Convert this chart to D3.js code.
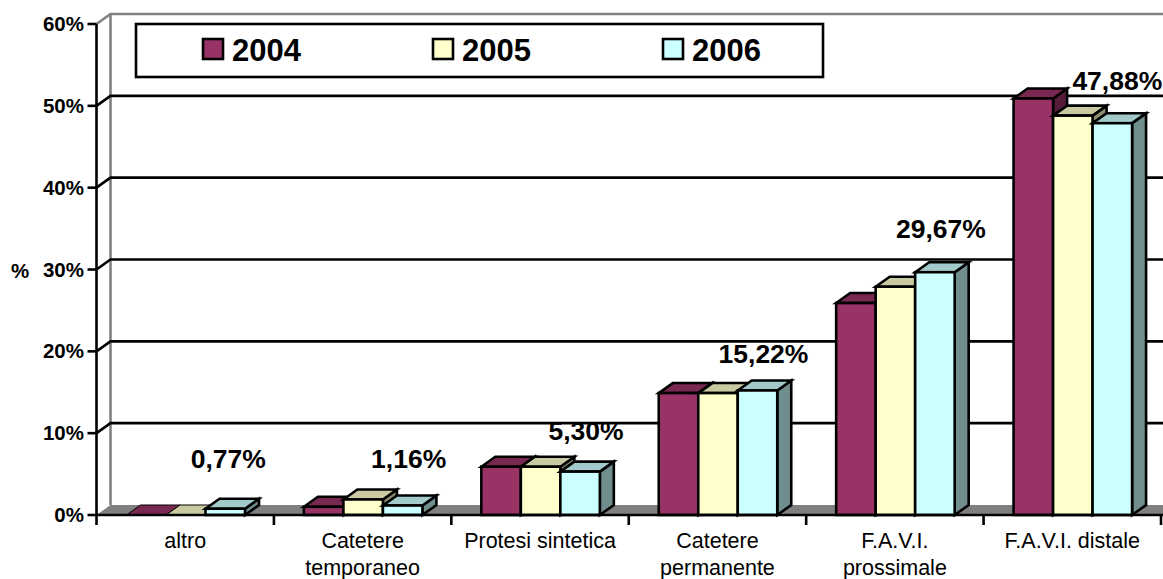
<!DOCTYPE html>
<html><head><meta charset="utf-8">
<script src="https://d3js.org/d3.v7.min.js"></script>
<style>html,body{margin:0;padding:0;background:#fff}svg{display:block}text{font-family:"Liberation Sans",Arial,sans-serif;fill:#000}</style>
</head><body><svg id="c" width="1163" height="579"></svg>
<script>
const categories=[["altro"],["Catetere","temporaneo"],["Protesi sintetica"],["Catetere","permanente"],["F.A.V.I.","prossimale"],["F.A.V.I. distale"]];
const series=["2004","2005","2006"];
const v2004=[0,1.0,5.9,14.9,25.9,50.9];
const v2005=[0,1.9,5.9,14.9,27.9,48.8];
const v2006=[0.77,1.16,5.30,15.22,29.67,47.88];
const labels=["0,77%","1,16%","5,30%","15,22%","29,67%","47,88%"];
const labelLift=[50,47,41,36,43,42];
const labelShift=[-4,-1,-1,-1,-1,-2];
const yTicks=[0,10,20,30,40,50,60];
const colors=["#993366","#FFFFCC","#CCFFFF"];
const W=1163,H=579,dx=14,dy=10,sw=2.6;
const values=[v2004,v2005,v2006];
const svg=d3.select("#c");
const y=d3.scaleLinear().domain([0,60]).range([515,24]);
const x=d3.scaleBand().domain(d3.range(6)).range([96.5,1161]).paddingInner(0).paddingOuter(0);
const inner=d3.scaleBand().domain(d3.range(3)).range([30,148.5]);
const L=x.range()[0];
// walls
svg.append("path").attr("d",`M${L},${y(60)}L${L+dx},${y(60)-dy}L${W},${y(60)-dy}`).attr("fill","none").attr("stroke","#808080").attr("stroke-width",sw);
svg.append("line").attr("x1",L+dx).attr("x2",L+dx).attr("y1",y(60)-dy).attr("y2",y(0)-dy).attr("stroke","#808080").attr("stroke-width",sw);
// gridlines
svg.selectAll("path.g").data(yTicks.filter(t=>t>0&&t<60)).join("path").attr("class","g")
  .attr("d",t=>`M${L},${y(t)}L${L+dx},${y(t)-dy}L${W},${y(t)-dy}`).attr("fill","none").attr("stroke","#000").attr("stroke-width",sw);
// floor
svg.append("path").attr("d",`M${L},${y(0)}L${L+dx},${y(0)-dy}L${W},${y(0)-dy}L${W},${y(0)}Z`).attr("fill","#808080");
// bars
categories.forEach((_,ci)=>{
  series.forEach((_,si)=>{
    const v=values[si][ci],bx=x(ci)+inner(si),w=inner.bandwidth(),t=y(v),b=y(0),c=colors[si];
    const g=svg.append("g").attr("stroke","#000").attr("stroke-width",v>0?sw:1);
    g.append("path").attr("d",`M${bx+w},${t}L${bx+w+dx},${t-dy}L${bx+w+dx},${b-dy}L${bx+w},${b}Z`).attr("fill",d3.rgb(c).darker(1.65).formatHex());
    g.append("path").attr("d",`M${bx},${t}L${bx+dx},${t-dy}L${bx+w+dx},${t-dy}L${bx+w},${t}Z`).attr("fill",d3.rgb(c).darker(0.65).formatHex());
    g.append("rect").attr("x",bx).attr("y",t).attr("width",w).attr("height",b-t).attr("fill",c);
  });
});
// axes
const ax=svg.append("g").attr("stroke","#000").attr("stroke-width",sw);
ax.append("line").attr("x1",L).attr("x2",L).attr("y1",y(60)).attr("y2",y(0)+10);
ax.append("line").attr("x1",L).attr("x2",W).attr("y1",y(0)).attr("y2",y(0));
ax.selectAll("line.yt").data(yTicks).join("line").attr("class","yt").attr("x1",L-9).attr("x2",L).attr("y1",d=>y(d)).attr("y2",d=>y(d));
ax.selectAll("line.xt").data(d3.range(1,7)).join("line").attr("class","xt").attr("x1",d=>L+d*x.step()).attr("x2",d=>L+d*x.step()).attr("y1",y(0)).attr("y2",y(0)+10);
svg.selectAll("text.yl").data(yTicks).join("text").attr("class","yl").attr("x",84).attr("y",d=>y(d)+7).attr("text-anchor","end").attr("font-weight","bold").attr("font-size",20.5).text(d=>d+"%");
svg.append("text").attr("x",20).attr("y",278).attr("text-anchor","middle").attr("font-weight","bold").attr("font-size",20.5).text("%");
// category labels
categories.forEach((c,i)=>c.forEach((t,j)=>svg.append("text").attr("x",x(i)+x.bandwidth()/2).attr("y",548+j*27).attr("text-anchor","middle").attr("font-size",21.5).text(t)));
// data labels
svg.selectAll("text.dl").data(labels).join("text").attr("class","dl").attr("x",(d,i)=>x(i)+inner(2)+inner.bandwidth()/2+7+labelShift[i]).attr("y",(d,i)=>y(v2006[i])-labelLift[i]+9).attr("text-anchor","middle").attr("font-weight","bold").attr("font-size",26.5).text(d=>d);
// legend
svg.append("rect").attr("x",136).attr("y",24).attr("width",687).attr("height",53).attr("fill","#fff").attr("stroke","#000").attr("stroke-width",sw);
const lx=d3.scaleLinear().domain([0,2]).range([203,663]);
series.forEach((s,i)=>{
  svg.append("rect").attr("x",lx(i)).attr("y",39).attr("width",20).attr("height",20).attr("fill",colors[i]).attr("stroke","#000").attr("stroke-width",sw);
  svg.append("text").attr("x",lx(i)+29).attr("y",61).attr("font-weight","bold").attr("font-size",31).text(s);
});
</script></body></html>
